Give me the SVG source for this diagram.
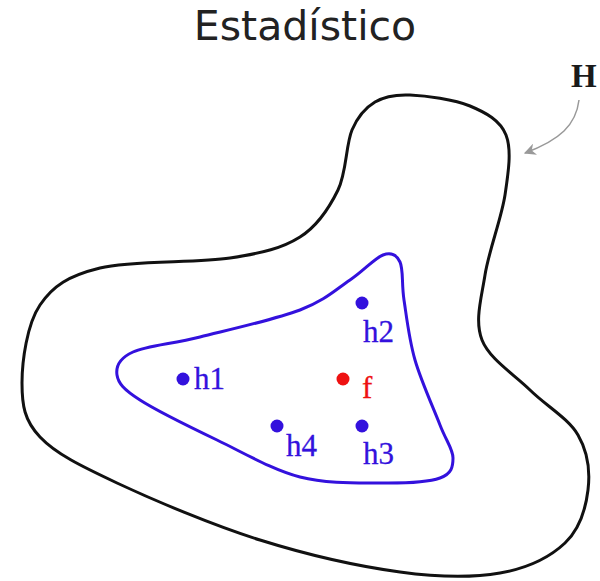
<svg xmlns="http://www.w3.org/2000/svg" width="600" height="581" viewBox="0 0 600 581">
<defs>
<style>
.lbl{font-family:"Liberation Serif","Times New Roman",serif;font-size:31px;fill:#3311dd;stroke:#3311dd;stroke-width:0.3}
.dot{fill:#3311dd}
</style>
<marker id="ah" viewBox="0 0 10 10" refX="9" refY="5" markerWidth="12" markerHeight="12" markerUnits="userSpaceOnUse" orient="auto">
<path d="M0,0 L10,5 L0,10 L3,5 Z" fill="#999"/>
</marker>
</defs>
<rect width="600" height="581" fill="#fff"/>
<text x="305" y="40" text-anchor="middle" font-family="DejaVu Sans, sans-serif" font-size="41" fill="#222">Estadístico</text>
<g id="H">
<path d="M410,95 C425.8,95.7 454,99.3 470,106 C486,112.7 500.2,120.2 506,135 C511.8,149.8 508.5,171.7 505,195 C501.5,218.3 488.8,250.8 485,275 C481.2,299.2 474.5,320.8 482,340 C489.5,359.2 514,374.2 530,390 C546,405.8 568.3,418.3 578,435 C587.7,451.7 590.2,472 588,490 C585.8,508 579.7,529.2 565,543 C550.3,556.8 527.5,568.2 500,573 C472.5,577.8 440,577.5 400,572 C360,566.5 307.2,554.8 260,540 C212.8,525.2 153.7,500.2 117,483 C80.3,465.8 55.8,453.7 40,437 C24.2,420.3 22,405 22,383 C22,361 27,324.2 40,305 C53,285.8 68.3,275.8 100,268 C131.7,260.2 196.7,263.2 230,258 C263.3,252.8 282,248.3 300,237 C318,225.7 329.3,207.8 338,190 C346.7,172.2 345.8,144.7 352,130 C358.2,115.3 365.3,107.8 375,102 C384.7,96.2 394.2,94.3 410,95 Z" fill="none" stroke="#111" stroke-width="3"/>
<text x="571" y="87" font-family="Liberation Serif, serif" font-weight="bold" font-size="33" fill="#1a1a1a">H</text>
</g>
<g id="subset">
<path d="M383,255 C391.3,252 396.5,254.5 400,262 C403.5,269.5 401.5,283.7 404,300 C406.5,316.3 409,339.2 415,360 C421,380.8 433.7,408.7 440,425 C446.3,441.3 453,449.2 453,458 C453,466.8 451.7,473.8 440,478 C428.3,482.2 406.3,483.2 383,483 C359.7,482.8 327.7,484.2 300,477 C272.3,469.8 243.7,452.8 217,440 C190.3,427.2 156.7,410.8 140,400 C123.3,389.2 118.2,383 117,375 C115.8,367 119.2,358.3 133,352 C146.8,345.7 172.2,344 200,337 C227.8,330 275,319.5 300,310 C325,300.5 336.2,289.2 350,280 C363.8,270.8 374.7,258 383,255 Z" fill="none" stroke="#3311dd" stroke-width="3"/>
</g>
<g id="h1"><circle class="dot" cx="183" cy="379" r="6.5"/><text class="lbl" x="194" y="389">h1</text></g>
<g id="h2"><circle class="dot" cx="362" cy="303" r="6.5"/><text class="lbl" x="363" y="342">h2</text></g>
<g id="h3"><circle class="dot" cx="362" cy="426" r="6.5"/><text class="lbl" x="363" y="464">h3</text></g>
<g id="h4"><circle class="dot" cx="277" cy="426" r="6.5"/><text class="lbl" x="286" y="456">h4</text></g>
<g id="f"><circle cx="343" cy="379" r="6.5" fill="#ee1111"/><text x="362" y="398" font-family="Liberation Serif, serif" font-size="31" fill="#ee1111" stroke="#ee1111" stroke-width="0.3">f</text></g>
<g id="connectors">
<path d="M579,100 C576,125 560,140 525,153" fill="none" stroke="#999" stroke-width="1.5" marker-end="url(#ah)"/>
</g>
</svg>
